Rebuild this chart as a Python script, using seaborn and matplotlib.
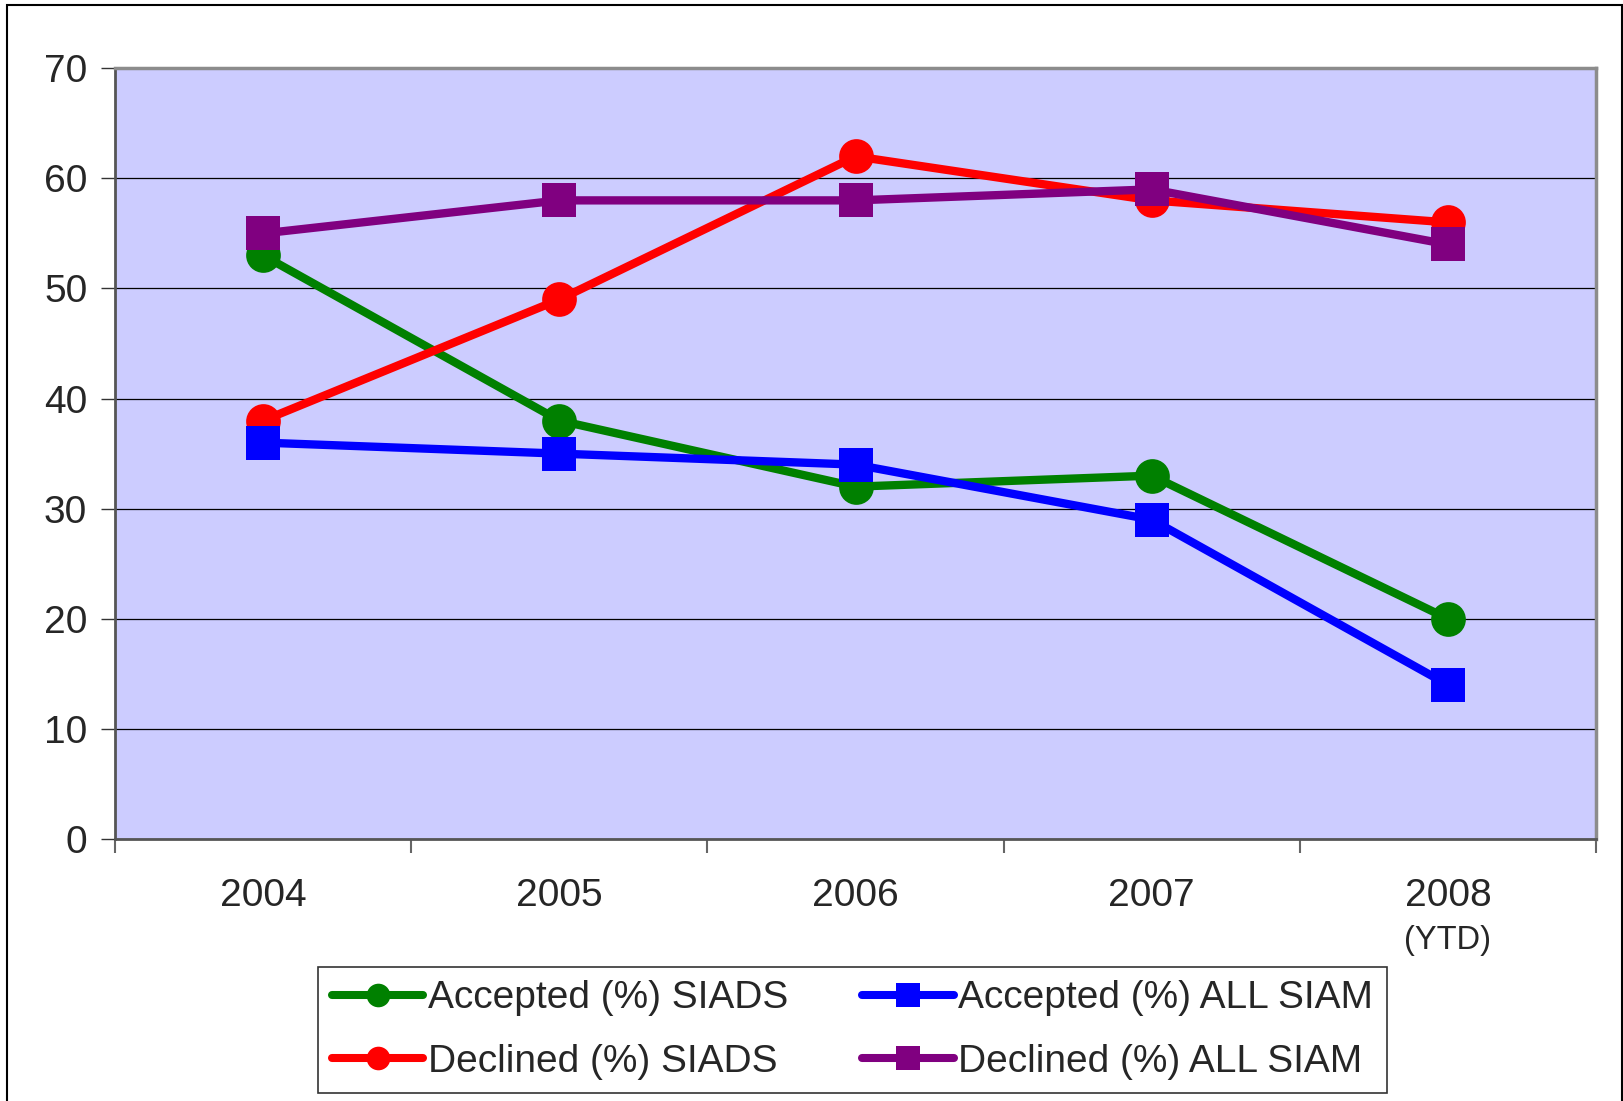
import matplotlib
matplotlib.use('Agg')
import matplotlib.pyplot as plt
import matplotlib.patches as patches
from matplotlib.lines import Line2D
import numpy as np
import pandas as pd
import seaborn as sns

# Data
years = ['2004', '2005', '2006', '2007', '2008']
accepted_siads = [53, 38, 32, 33, 20]
declined_siads = [38, 49, 62, 58, 56]
accepted_all = [36, 35, 34, 29, 14]
declined_all = [55, 58, 58, 59, 54]

series_names = ['Accepted (%) SIADS', 'Declined (%) SIADS',
                'Accepted (%) ALL SIAM', 'Declined (%) ALL SIAM']
series_values = [accepted_siads, declined_siads, accepted_all, declined_all]
colors = ['#008000', '#FF0000', '#0000FF', '#800080']
markers = ['o', 'o', 's', 's']

sns.set_style('white')
plt.rcParams['font.family'] = ['Liberation Sans', 'DejaVu Sans']

fig = plt.figure(figsize=(16.23, 11.01), dpi=100)
ax = fig.add_axes([0.0709, 0.238, 0.9125, 0.700])
ax.set_facecolor('#CCCCFF')

for name, vals, col, mk in zip(series_names, series_values, colors, markers):
    df = pd.DataFrame({'pos': np.arange(len(years)), 'value': vals})
    sns.lineplot(data=df, x='pos', y='value', ax=ax, color=col, marker=mk,
                 markersize=25, linewidth=6, markeredgewidth=0, legend=False,
                 zorder=3)

# y axis
ax.set_ylim(0, 70)
ax.set_yticks(range(0, 71, 10))
ax.yaxis.grid(True, color='black', linewidth=0.9)
ax.set_axisbelow(True)
ax.tick_params(axis='y', direction='out', length=10, width=1, color='#333333',
               labelsize=28, pad=10, left=True)

# x axis: ticks between categories, labels centered
ax.set_xlim(-0.5, len(years) - 0.5)
ax.set_xticks(np.arange(-0.5, len(years)), labels=[''] * (len(years) + 1))
ax.set_xticks(np.arange(len(years)), labels=years, minor=True)
ax.tick_params(axis='x', which='major', direction='out', length=10, width=1.5,
               color='#666666', bottom=True)
ax.tick_params(axis='x', which='minor', length=0, labelsize=28, pad=28)
ax.set_xlabel('')
ax.set_ylabel('')
ax.text(len(years) - 1, -0.132, '(YTD)', transform=ax.get_xaxis_transform(),
        ha='center', va='center', fontsize=23.5)

for side in ['top', 'right']:
    ax.spines[side].set_color('#8c8c8c')
    ax.spines[side].set_linewidth(2.5)
for side in ['left', 'bottom']:
    ax.spines[side].set_color('#555555')
    ax.spines[side].set_linewidth(2)
    ax.spines[side].set_visible(True)

# legend
handles = [Line2D([], [], color=c, marker=m, markersize=17, linewidth=5.8,
                  markeredgewidth=0, solid_capstyle='round')
           for c, m in zip(colors, markers)]
leg = fig.legend(handles, series_names, ncol=2, loc='center',
                 bbox_to_anchor=(0.5253, 0.0645), fontsize=28, frameon=True,
                 fancybox=False, edgecolor='black', handlelength=2.35,
                 handletextpad=0.12, columnspacing=1.9, labelspacing=0.7,
                 borderpad=0.35, borderaxespad=0)
leg.get_frame().set_linewidth(1.2)

# outer chart border
fig.patches.append(patches.Rectangle((0.0043, -0.01), 0.995, 1.0055, fill=False,
                                     edgecolor='black', linewidth=1.5,
                                     transform=fig.transFigure, figure=fig))

fig.savefig('out.png', dpi=100)
